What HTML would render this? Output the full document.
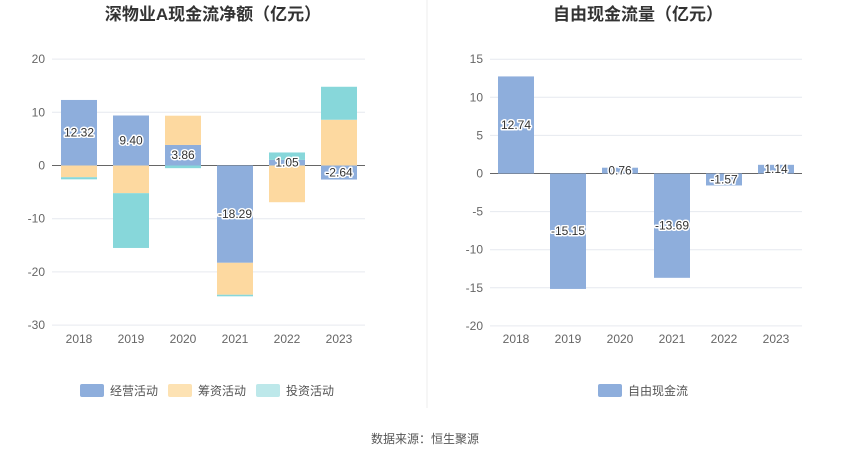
<!DOCTYPE html>
<html><head><meta charset="utf-8"><style>
body{margin:0;background:#fff;font-family:"Liberation Sans","Noto Sans CJK SC",sans-serif;}
svg text{font-family:"Liberation Sans","Noto Sans CJK SC",sans-serif;}
.lbl{paint-order:stroke;stroke:#fff;stroke-width:3px;stroke-linejoin:round;}
</style></head><body>
<svg id="c" width="850" height="459" viewBox="0 0 850 459" xmlns="http://www.w3.org/2000/svg">
<text x="213" y="20" text-anchor="middle" font-size="17" font-weight="bold" fill="#333">深物业A现金流净额（亿元）</text>
<text x="638" y="20" text-anchor="middle" font-size="17" font-weight="bold" fill="#333">自由现金流量（亿元）</text>
<line x1="427" y1="0" x2="427" y2="408" stroke="#eee"/>
<g id="L"></g><g id="R"></g>
<rect x="80" y="384" width="24" height="13" fill="#8eaedc" rx="2"/>
<text x="110" y="395" font-size="12" fill="#555">经营活动</text>
<rect x="168" y="384" width="24" height="13" fill="#fde2b3" rx="2"/>
<text x="198" y="395" font-size="12" fill="#555">筹资活动</text>
<rect x="256" y="384" width="24" height="13" fill="#bde8ea" rx="2"/>
<text x="286" y="395" font-size="12" fill="#555">投资活动</text>
<rect x="598" y="384" width="24" height="13" fill="#8eaedc" rx="2"/>
<text x="628" y="395" font-size="12" fill="#555">自由现金流</text>
<text x="425" y="443" text-anchor="middle" font-size="12" fill="#555">数据来源：恒生聚源</text>
</svg>
<script>
const years=["2018","2019","2020","2021","2022","2023"];
const operating=[12.32,9.40,3.86,-18.29,1.05,-2.64];
const financing=[-2.2,-5.2,5.5,-6.0,-6.9,8.6];
const investing=[-0.4,-10.3,-0.5,-0.3,1.4,6.2];
const leftTicks=[20,10,0,-10,-20,-30];
const fcf=[12.74,-15.15,0.76,-13.69,-1.57,1.14];
const rightTicks=[15,10,5,0,-5,-10,-15,-20];
const NS="http://www.w3.org/2000/svg";
function mk(p,t,a){const e=document.createElementNS(NS,t);for(const k in a)e.setAttribute(k,a[k]);p.appendChild(e);return e;}
// left axes
const ly=v=>165.5-(v)*5.32, lx=i=>79+i*52;
const L=document.getElementById('L');
leftTicks.forEach(t=>{
 const g=mk(L,'line',{x1:52,x2:365,y1:ly(t),y2:ly(t),stroke:t===0?'#666':'#e6e9ef'});
 
 
 const tx=mk(L,'text',{x:45,y:ly(t)+4,'text-anchor':'end','font-size':12,fill:'#666'});tx.textContent=t;
 
 
});
const series=[[operating,'#8eaedc','operating'],[financing,'#fdd9a0','financing'],[investing,'#87d7da','investing']];
years.forEach((y,i)=>{
 let pos=0,neg=0;
 series.forEach(([arr,col,nm])=>{
  const v=arr[i];let a,b;
  if(v>=0){a=pos;b=pos+v;pos=b;}else{a=neg;b=neg+v;neg=b;}
  const r=mk(L,'rect',{x:lx(i)-18,width:36,y:Math.min(ly(a),ly(b)),height:Math.abs(ly(a)-ly(b)),fill:col});
  
  
 });
 const tx=mk(L,'text',{x:lx(i),y:ly(operating[i]/2)+4,'text-anchor':'middle','font-size':12,fill:'#333',class:'lbl'});tx.textContent=operating[i].toFixed(2);
 
 
 const xl=mk(L,'text',{x:lx(i),y:343,'text-anchor':'middle','font-size':12,fill:'#666'});xl.textContent=y;
 
 
});
// right
const ry=v=>173.5-v*7.62, rx=i=>516+i*52;
const R=document.getElementById('R');
rightTicks.forEach(t=>{
 const g=mk(R,'line',{x1:490,x2:802,y1:ry(t),y2:ry(t),stroke:t===0?'#666':'#e6e9ef'});
 
 
 const tx=mk(R,'text',{x:483,y:ry(t)+4,'text-anchor':'end','font-size':12,fill:'#666'});tx.textContent=t;
 
 
});
years.forEach((y,i)=>{
 const v=fcf[i];
 const r=mk(R,'rect',{x:rx(i)-18,width:36,y:Math.min(ry(0),ry(v)),height:Math.abs(ry(0)-ry(v)),fill:'#8eaedc'});
 
 
 const tx=mk(R,'text',{x:rx(i),y:ry(v/2)+4,'text-anchor':'middle','font-size':12,fill:'#333',class:'lbl'});tx.textContent=v.toFixed(2);
 
 
 const xl=mk(R,'text',{x:rx(i),y:343,'text-anchor':'middle','font-size':12,fill:'#666'});xl.textContent=y;
 
 
});
</script>
</body></html>
